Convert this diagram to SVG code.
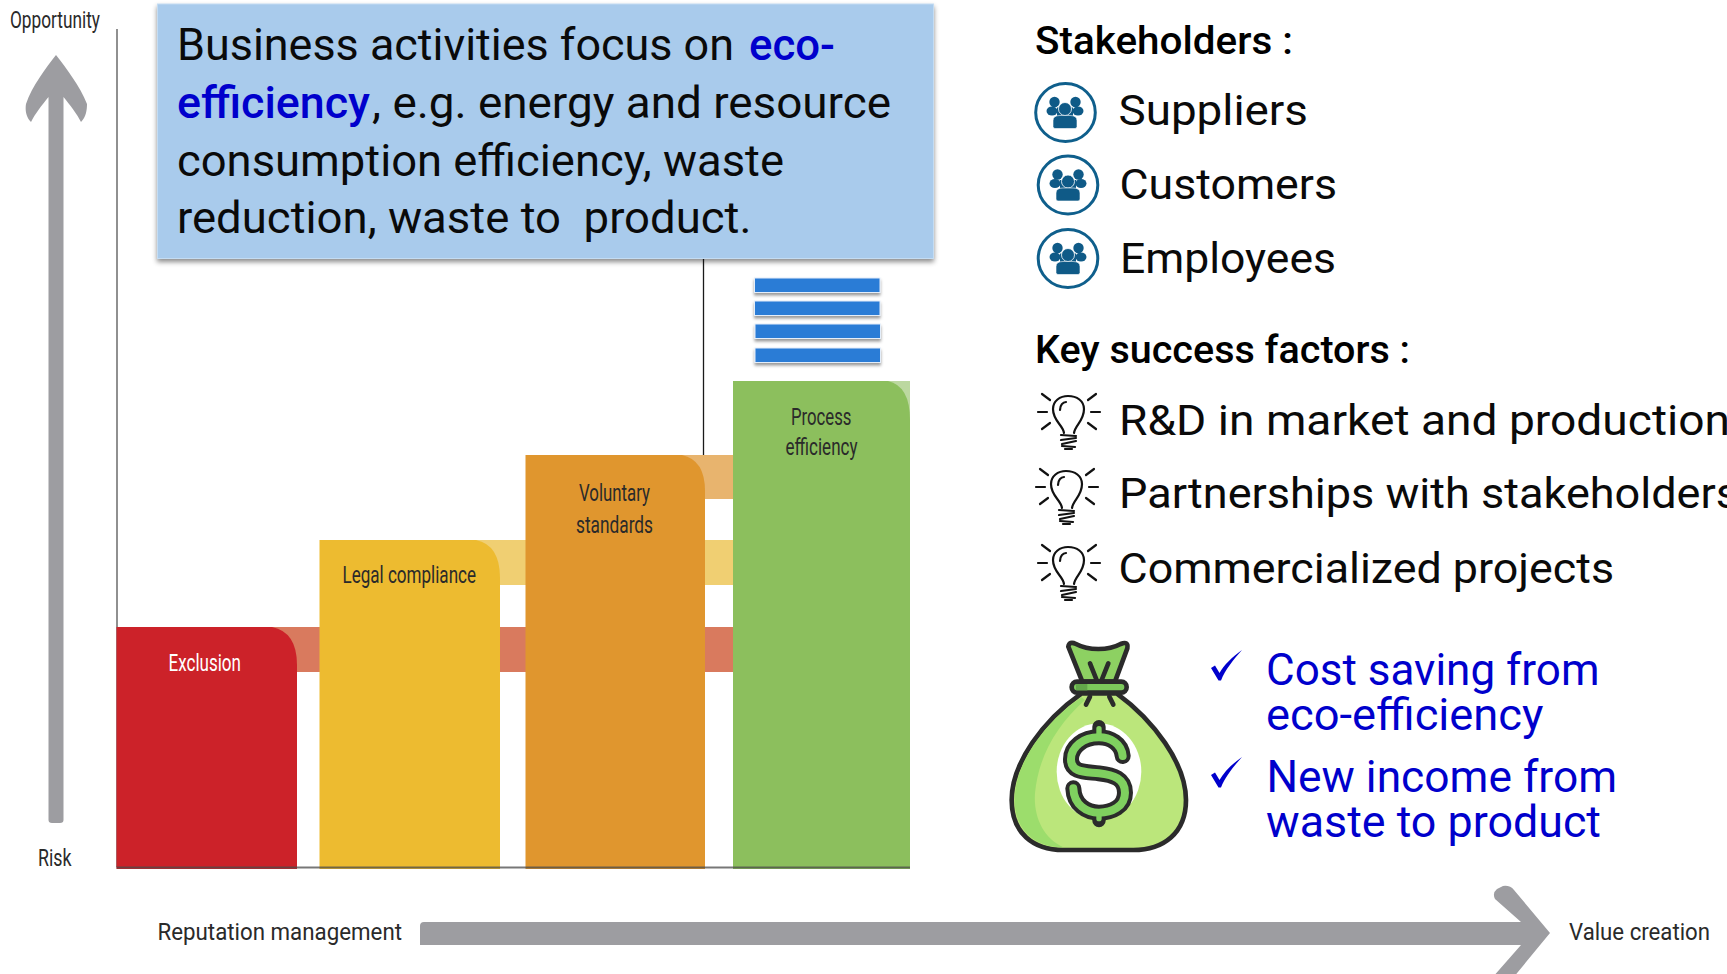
<svg xmlns="http://www.w3.org/2000/svg" xmlns:xlink="http://www.w3.org/1999/xlink" width="1727" height="974" viewBox="0 0 1727 974">
<style>
text{font-family:Roboto,"Liberation Sans",sans-serif}
.main{font-size:45px;fill:#0a0a0a}
.mainb{font-size:45px;fill:#0000cc;font-weight:500}
.small{font-size:24px;fill:#2a2a2a}
.head{font-size:39px;fill:#000;font-weight:500}
.item{font-size:43px;fill:#0a0a0a}
.blue{font-size:45px;fill:#0000cc}
.gray{fill:#9d9da1}
.bulb{fill:none;stroke:#111;stroke-width:2.200;stroke-linecap:round}
.bag{stroke:#2b2b2b;stroke-width:14;stroke-linejoin:round;stroke-linecap:round}
</style>
<defs>
<filter id="sh" x="-5%" y="-5%" width="110%" height="115%"><feDropShadow dx="0" dy="3" stdDeviation="2.5" flood-color="#000" flood-opacity=".45"/></filter>
<filter id="sh2" x="-10%" y="-30%" width="120%" height="180%"><feDropShadow dx="0" dy="2.5" stdDeviation="1.5" flood-color="#000" flood-opacity=".4"/></filter>
<g id="people">
<circle cx="-10.500" cy="-10.500" r="5.200" fill="#0f5a87"/><circle cx="10.500" cy="-10.500" r="5.200" fill="#0f5a87"/>
<ellipse cx="-13" cy="-1.500" rx="5.500" ry="4.500" fill="#0f5a87"/><ellipse cx="13" cy="-1.500" rx="5.500" ry="4.500" fill="#0f5a87"/>
<path d="M-8-5 H8 V4 H-8Z" fill="#0f5a87"/>
<circle cx="0" cy="-3.500" r="6.500" fill="#0f5a87" stroke="#fff" stroke-width=".8"/>
<path d="M-12 14 L-12 8 Q-12 3-5 3 L5 3 Q12 3 12 8 L12 14 Q12 16 10 16 L-10 16 Q-12 16-12 14Z" fill="#0f5a87" stroke="#fff" stroke-width=".6"/>
</g>
<g id="bulbicon" class="bulb">
<path d="M-5 21 C-6 13-16 9-16 -3 C-16 -11-9 -16-1 -16 C8 -16 15 -11 15 -3 C15 9 6 13 5 21"/>
<path d="M-9 -2 C-9 -7-6 -10-3 -10"/>
<path d="M-8 23 L7 24 M-8 28 L7 26 M-7 32 L7 29 M-7 34 L6 35 M-4 37 L3 37"/>
<path d="M-31 0 L-22 0 M22 0 L31 0 M-27 -18 L-19 -12 M27 -18 L19 -12 M-27 17 L-19 11 M27 17 L19 11"/>
</g>
<path id="check" d="M0 7 L4 4.500 L8.500 12 C13 4 21 -4 31 -11 C23 -2 14 9 10 19.500 L7.500 19.500 Z" fill="#0000cc"/>
</defs>
<rect width="1727" height="974" fill="#fff"/>

<g id="connectors">
<line x1="117" y1="29" x2="117" y2="867" stroke="#6b6b6b" stroke-width="1.500"/>
<path id="up-arrow" class="gray" d="M48.500 97 C42 105 35 114 31 122 C26 117 25 110 26 104 C32 86 46 68 56 55 C66 68 80 86 87 104 C87 110 86 117 81 122 C77 114 70 105 63.500 97 L63.500 820 Q63.500 823 60 823 L52 823 Q48.500 823 48.500 820Z"/>
<path id="right-arrow" class="gray" d="M420 926 Q420 922 424 922 L1521 922 L1495 899 Q1492 893 1497 889 L1503 886 Q1510 885 1514 890 L1550 933 L1513 978 L1492 978 L1521 945 L420 945Z"/>
<line x1="703.500" y1="259" x2="703.500" y2="476" stroke="#1a1a1a" stroke-width="1.300"/>
</g>

<g id="bands">
<rect x="270" y="627" width="463" height="45" fill="#d97a5e"/>
<rect x="470" y="540" width="263" height="45" fill="#f0cf72"/>
<rect x="680" y="455" width="53" height="44" fill="#e8b46e"/>
<rect x="885" y="381" width="25" height="40" fill="#bcd8a0"/>
</g>
<g id="exclusion">
<path d="M116.500 627 L272 627 Q297 632 297 665 L297 869 L116.500 869Z" fill="#cc2229"/>
<text class="small" x="168.500" y="671" textLength="72.500" lengthAdjust="spacingAndGlyphs" style="fill:#fff">Exclusion</text>
</g>
<g id="legal-compliance">
<path d="M319.500 540 L476 540 Q500 545 500 578 L500 869 L319.500 869Z" fill="#edbb30"/>
<text class="small" x="342.500" y="582.500" textLength="133.500" lengthAdjust="spacingAndGlyphs">Legal compliance</text>
</g>
<g id="voluntary-standards">
<path d="M525.500 455 L682 455 Q705 460 705 491 L705 869 L525.500 869Z" fill="#e0962e"/>
<text class="small" x="579" y="500.500" textLength="71" lengthAdjust="spacingAndGlyphs">Voluntary</text>
<text class="small" x="576" y="533" textLength="77" lengthAdjust="spacingAndGlyphs">standards</text>
</g>
<g id="process-efficiency">
<path d="M733 381 L888 381 Q910 386 910 420 L910 869 L733 869Z" fill="#8cbf5d"/>
<text class="small" x="791" y="424.500" textLength="60.500" lengthAdjust="spacingAndGlyphs">Process</text>
<text class="small" x="785.500" y="455" textLength="72" lengthAdjust="spacingAndGlyphs">efficiency</text>
</g>
<line id="baseline" x1="116.500" y1="867.500" x2="910" y2="867.500" stroke="#4a4a4a" stroke-width="2" opacity=".75"/>

<g id="stack" fill="#2a7bd6" stroke="#e4eefa" stroke-width="1" filter="url(#sh2)">
<rect x="754.500" y="278" width="125.500" height="14.500"/>
<rect x="754.500" y="301" width="125.500" height="14.500"/>
<rect x="755" y="324" width="125.500" height="14.500"/>
<rect x="755" y="348" width="125.500" height="14.500"/>
</g>

<g id="callout">
<rect x="157.500" y="4" width="776" height="254.500" fill="#a9cbec" stroke="#c4dcf2" stroke-width="1" filter="url(#sh)"/>
<text class="main" x="177" y="60" textLength="557" lengthAdjust="spacingAndGlyphs">Business activities focus on</text>
<text class="mainb" x="749" y="60" textLength="86" lengthAdjust="spacingAndGlyphs">eco-</text>
<text class="mainb" x="177" y="118" textLength="193" lengthAdjust="spacingAndGlyphs">efficiency</text>
<text class="main" x="372" y="118" textLength="519" lengthAdjust="spacingAndGlyphs">, e.g. energy and resource</text>
<text class="main" x="177" y="175.500" textLength="607" lengthAdjust="spacingAndGlyphs">consumption efficiency, waste</text>
<text class="main" x="177" y="233" textLength="574.500" lengthAdjust="spacingAndGlyphs" xml:space="preserve">reduction, waste to  product.</text>
</g>

<text id="label-opportunity" class="small" x="10" y="28" textLength="90" lengthAdjust="spacingAndGlyphs">Opportunity</text>
<text id="label-risk" class="small" x="38" y="866" textLength="33.500" lengthAdjust="spacingAndGlyphs">Risk</text>
<text id="label-reputation" class="small" x="157.500" y="939.500" textLength="244.500" lengthAdjust="spacingAndGlyphs">Reputation management</text>
<text id="label-value" class="small" x="1569" y="939.500" textLength="141" lengthAdjust="spacingAndGlyphs">Value creation</text>

<g id="stakeholders">
<text class="head" x="1035" y="53.500" textLength="258" lengthAdjust="spacingAndGlyphs">Stakeholders :</text>
<g id="suppliers">
<ellipse cx="1065.500" cy="112.500" rx="29.800" ry="29" fill="#fff" stroke="#0f5f8c" stroke-width="3"/>
<use href="#people" x="1065" y="112.500"/>
<text class="item" x="1118.500" y="125" textLength="189.500" lengthAdjust="spacingAndGlyphs">Suppliers</text>
</g>
<g id="customers">
<ellipse cx="1068" cy="185" rx="29.800" ry="29" fill="#fff" stroke="#0f5f8c" stroke-width="3"/>
<use href="#people" x="1068" y="185"/>
<text class="item" x="1119.500" y="199" textLength="217.500" lengthAdjust="spacingAndGlyphs">Customers</text>
</g>
<g id="employees">
<ellipse cx="1068" cy="258.500" rx="29.800" ry="29" fill="#fff" stroke="#0f5f8c" stroke-width="3"/>
<use href="#people" x="1068" y="258.500"/>
<text class="item" x="1120" y="273" textLength="216" lengthAdjust="spacingAndGlyphs">Employees</text>
</g>
</g>

<g id="success-factors">
<text class="head" x="1035" y="362.500" textLength="375" lengthAdjust="spacingAndGlyphs">Key success factors :</text>
<g id="factor-rd">
<use href="#bulbicon" x="1069" y="412"/>
<text class="item" x="1119" y="435" textLength="611" lengthAdjust="spacingAndGlyphs">R&amp;D in market and production</text>
</g>
<g id="factor-partnerships">
<use href="#bulbicon" x="1067" y="487"/>
<text class="item" x="1119" y="508" textLength="620" lengthAdjust="spacingAndGlyphs">Partnerships with stakeholders</text>
</g>
<g id="factor-commercialized">
<use href="#bulbicon" x="1069" y="563"/>
<text class="item" x="1118.500" y="582.500" textLength="495.500" lengthAdjust="spacingAndGlyphs">Commercialized projects</text>
</g>
</g>

<g id="money-bag" transform="translate(1000 630) scale(.3333)">
<path class="bag" d="M245 190 C130 270 35 400 35 510 C35 610 100 660 190 660 L400 660 C490 660 558 610 558 510 C558 400 460 270 350 190Z" fill="#bbe67b"/>
<path d="M245 202 C135 275 44 400 44 510 C44 600 105 652 190 652 C130 625 100 560 105 490 C115 380 170 285 255 210Z" fill="#9cdd6c"/>
<path class="bag" d="M205 50 Q208 32 228 42 C265 62 325 62 362 42 Q386 32 382 55 L345 155 L247 155Z" fill="#8dd162"/>
<rect class="bag" x="215" y="155" width="165" height="33" rx="16" fill="#7cc95b"/>
<path d="M228 162 H262 V181 H228Z" fill="#63a84a"/>
<path class="bag" d="M270 100 L290 150 M325 100 L305 150 M270 200 L258 224 M328 200 L340 224" fill="none"/>
<ellipse cx="297" cy="425" rx="127" ry="145" fill="#fff"/>
<path d="M297 290 V325 M297 545 V572" stroke="#2b2b2b" stroke-width="40" stroke-linecap="round" fill="none"/>
<path d="M368 378 C365 340 330 322 297 322 C250 322 213 350 213 388 C213 430 260 425 297 430 C340 435 375 445 375 488 C375 530 335 548 297 548 C260 548 222 525 220 475" stroke="#2b2b2b" stroke-width="48" stroke-linecap="round" fill="none"/>
<path d="M297 296 V325 M297 545 V566" stroke="#7fd05f" stroke-width="16" stroke-linecap="round" fill="none"/>
<path d="M368 378 C365 340 330 322 297 322 C250 322 213 350 213 388 C213 430 260 425 297 430 C340 435 375 445 375 488 C375 530 335 548 297 548 C260 548 222 525 220 475" stroke="#7fd05f" stroke-width="24" stroke-linecap="round" fill="none"/>
</g>

<g id="benefits">
<use href="#check" x="1211" y="661"/>
<text class="blue" x="1266" y="685" textLength="333.500" lengthAdjust="spacingAndGlyphs">Cost saving from</text>
<text class="blue" x="1266" y="730" textLength="277.500" lengthAdjust="spacingAndGlyphs">eco-efficiency</text>
<use href="#check" x="1211" y="768"/>
<text class="blue" x="1266.500" y="791.500" textLength="350.500" lengthAdjust="spacingAndGlyphs">New income from</text>
<text class="blue" x="1266" y="837" textLength="335" lengthAdjust="spacingAndGlyphs">waste to product</text>
</g>
</svg>
